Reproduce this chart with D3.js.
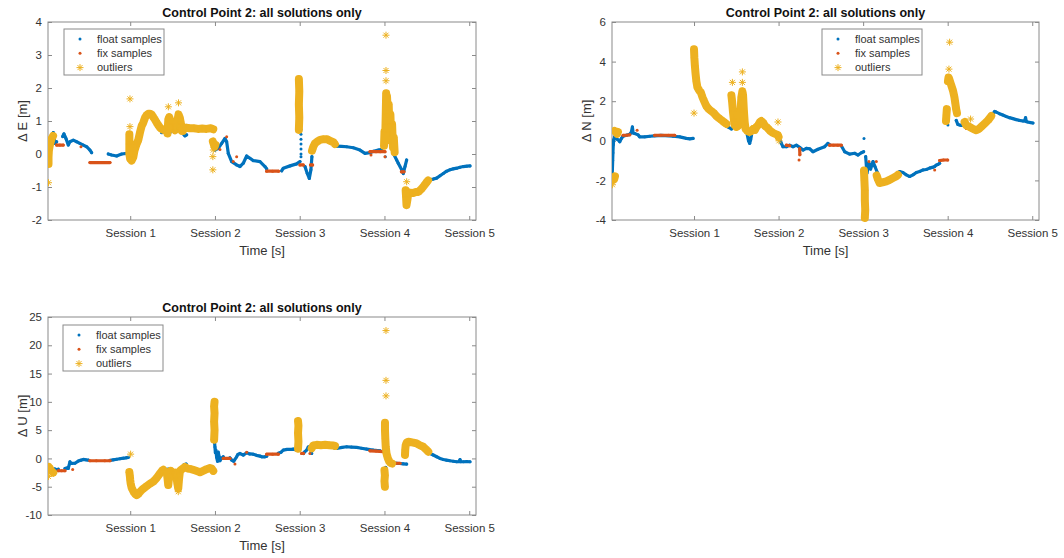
<!DOCTYPE html>
<html lang="en">
<head>
<meta charset="UTF-8">
<title>Control Point 2: all solutions only</title>
<script src="https://d3js.org/d3.v7.min.js"></script>
<style>
  body { margin: 0; background: #fff; }
  svg { font-family: "Liberation Sans", Arial, Helvetica, sans-serif; }
</style>
</head>
<body>
<svg id="chart" width="1064" height="558"></svg>
<script>
// x axis: session start times (time in session units)
var sessionTicks = [1, 2, 3, 4, 5];
var sessionLabels = ["Session 1", "Session 2", "Session 3", "Session 4", "Session 5"];
var timeDomain = [0.03, 5.08];

var eTicks = [-2, -1, 0, 1, 2, 3, 4];
var nTicks = [-4, -2, 0, 2, 4, 6];
var uTicks = [-10, -5, 0, 5, 10, 15, 20, 25];

var legendLabels = ["float samples", "fix samples", "outliers"];

// each series is a list of runs of [time, value]; a run of one is a lone sample
var eFloat = [
  [[0.073,0.53],[0.092,0.65],[0.112,0.32],[0.132,0.37]],
  [[0.203,0.53],[0.218,0.61],[0.242,0.47],[0.269,0.27],[0.289,0.37],[0.328,0.42],[0.368,0.37],[0.407,0.32],[0.446,0.27],[0.486,0.22],[0.525,0.12],[0.545,0.04]],
  [[0.741,0.0],[0.781,-0.03],[0.84,-0.06],[0.899,0.0],[0.958,0.02],[0.989,0.04]],
  [[1.371,0.65],[1.42,0.66],[1.469,0.65]],
  [[1.626,0.61],[1.646,0.55],[1.666,0.58]],
  [[2.0,0.12],[2.039,0.17],[2.079,0.32],[2.118,0.47],[2.138,0.37],[2.157,0.02],[2.197,-0.23],[2.256,-0.33],[2.295,-0.38],[2.334,-0.28],[2.374,-0.06],[2.413,-0.13],[2.452,-0.2],[2.531,-0.23],[2.59,-0.38],[2.61,-0.45]],
  [[2.787,-0.51],[2.806,-0.43],[2.885,-0.36],[2.963,-0.3],[3.003,-0.23]],
  [[3.015,0.75]],[[3.015,0.6]],[[3.015,0.45]],[[3.015,0.3]],[[3.015,0.15]],[[3.015,0.0]],[[3.015,-0.08]],
  [[3.062,-0.38],[3.089,-0.59],[3.113,-0.74],[3.132,-0.48],[3.144,-0.08]],
  [[3.416,0.24],[3.436,0.24],[3.495,0.23],[3.554,0.22],[3.632,0.19],[3.711,0.12],[3.77,0.02],[3.829,0.04],[3.87,0.08],[3.928,0.12],[3.967,0.14]],
  [[4.01,-0.08]],
  [[4.104,0.02],[4.144,-0.18],[4.163,-0.28],[4.203,-0.48],[4.222,-0.59],[4.242,-0.38],[4.262,-0.18]],
  [[4.517,-0.81],[4.537,-0.78],[4.576,-0.76],[4.616,-0.73],[4.655,-0.66],[4.694,-0.59],[4.733,-0.52],[4.773,-0.48],[4.812,-0.45],[4.852,-0.43],[4.891,-0.4],[4.931,-0.38],[4.97,-0.37],[5.009,-0.36]]
];
var eFix = [
  [[0.132,0.27],[0.17,0.27],[0.21,0.27]],
  [[0.419,0.22]],
  [[0.525,-0.26],[0.6,-0.26],[0.68,-0.26],[0.761,-0.26]],
  [[2.059,0.14]],[[2.138,0.52]],[[2.216,-0.23]],[[2.256,-0.08]],
  [[2.61,-0.52],[2.68,-0.52],[2.75,-0.52]],
  [[3.003,-0.33],[3.042,-0.33]],
  [[3.128,-0.33],[3.152,-0.33]],
  [[3.829,0.07],[3.9,0.07],[3.95,0.07],[4.006,0.07]],
  [[3.841,-0.03]],[[4.006,-0.08]],
  [[4.2,-0.54],[4.23,-0.54]]
];
var eOut = [
  [[0.036,-0.3],[0.036,-0.1],[0.04,0.1],[0.05,0.25],[0.06,0.35],[0.07,0.45],[0.08,0.5],[0.09,0.55]],
  [[0.036,-0.87]],
  [[0.99,0.6],[0.99,0.3],[0.99,0.0],[1.0,-0.15],[1.017,-0.2],[1.036,-0.1],[1.05,0.1],[1.075,0.3],[1.095,0.42],[1.115,0.65],[1.135,0.85],[1.154,0.95],[1.175,1.1],[1.194,1.18],[1.213,1.22],[1.233,1.22],[1.252,1.2],[1.272,1.12],[1.29,1.05],[1.312,0.95],[1.33,0.88],[1.351,0.8],[1.37,0.76],[1.39,0.73]],
  [[0.997,0.83]],[[0.997,1.67]],
  [[1.44,0.62],[1.445,0.85],[1.45,1.05],[1.46,1.12],[1.475,1.0],[1.49,0.92],[1.51,0.8],[1.53,0.72],[1.55,0.85],[1.56,1.05],[1.57,1.2],[1.585,1.1],[1.6,0.9],[1.61,0.7],[1.62,0.7]],
  [[1.45,1.43]],[[1.57,1.55]],
  [[1.62,0.75],[1.66,0.8],[1.7,0.78],[1.75,0.78],[1.8,0.76],[1.85,0.77],[1.9,0.76],[1.95,0.78],[1.98,0.75]],
  [[1.975,0.38],[1.985,0.3],[1.995,0.22],[2.005,0.28]],
  [[1.975,-0.48]],[[1.975,-0.08]],[[1.98,0.12]],
  [[2.99,0.73],[2.995,1.1],[2.99,1.5],[2.995,1.9],[2.99,2.27]],
  [[3.145,0.1],[3.16,0.22],[3.18,0.32],[3.21,0.38],[3.24,0.43],[3.28,0.45],[3.32,0.45],[3.36,0.4],[3.4,0.35],[3.415,0.3]],
  [[3.995,0.25],[4.0,0.68],[4.008,0.4],[4.015,1.2],[4.02,1.84],[4.025,0.9],[4.03,1.75],[4.04,1.2],[4.045,0.8],[4.05,1.5],[4.06,0.6],[4.07,1.2],[4.08,0.4],[4.09,0.9],[4.1,0.2],[4.11,0.5],[4.12,0.05]],
  [[4.018,3.6]],[[4.018,2.53]],[[4.018,2.22]],
  [[4.262,-0.84]],
  [[4.25,-1.1],[4.255,-1.3],[4.26,-1.55],[4.27,-1.4],[4.28,-1.2],[4.3,-1.17],[4.34,-1.18],[4.37,-1.15],[4.4,-1.15],[4.44,-1.05],[4.47,-0.95],[4.5,-0.85],[4.515,-0.8]]
];

var nFloat = [
  [[0.031,-1.8],[0.035,-1.4],[0.038,-1.0],[0.041,-0.6],[0.045,-0.2],[0.05,0.05],[0.063,0.2]],
  [[0.063,0.2],[0.08,0.1],[0.102,0.05],[0.122,-0.05],[0.141,0.12],[0.161,0.23],[0.2,0.28],[0.24,0.33],[0.26,0.45],[0.271,0.7],[0.28,0.4],[0.299,0.37],[0.338,0.3],[0.358,0.2],[0.417,0.2],[0.476,0.23],[0.535,0.25],[0.614,0.27],[0.752,0.23],[0.831,0.2],[0.91,0.12],[0.95,0.1],[0.989,0.12]],
  [[1.383,0.75],[1.41,0.68],[1.442,0.6]],
  [[1.63,0.3],[1.645,0.0],[1.658,-0.13],[1.67,0.05],[1.68,0.3]],
  [[2.005,0.2],[2.013,0.1],[2.033,-0.13],[2.052,-0.3],[2.092,-0.3],[2.131,-0.22],[2.171,-0.3],[2.21,-0.22],[2.249,-0.33],[2.289,-0.47],[2.328,-0.38],[2.368,-0.4],[2.407,-0.55],[2.466,-0.43],[2.545,-0.3],[2.584,-0.13],[2.604,-0.2]],
  [[2.742,-0.25],[2.782,-0.55],[2.84,-0.67],[2.9,-0.63],[2.94,-0.72],[2.979,-0.6],[3.006,-0.55]],
  [[3.01,0.12]],
  [[3.03,-0.8],[3.045,-1.63],[3.069,-1.13],[3.089,-1.43],[3.117,-1.05],[3.14,-1.3],[3.168,-1.6]],
  [[3.412,-1.63],[3.432,-1.55],[3.471,-1.6],[3.51,-1.72],[3.55,-1.8],[3.59,-1.72],[3.629,-1.6],[3.668,-1.55],[3.708,-1.47],[3.747,-1.45],[3.786,-1.38],[3.826,-1.33],[3.846,-1.3],[3.866,-1.22],[3.885,-1.2],[3.905,-1.13]],
  [[4.003,0.8]],
  [[4.101,1.03],[4.121,0.82],[4.141,0.8],[4.161,0.78],[4.18,0.8],[4.2,0.87]],
  [[4.515,1.35],[4.535,1.37],[4.555,1.48],[4.574,1.45],[4.613,1.37],[4.652,1.3],[4.692,1.23],[4.731,1.17],[4.771,1.12],[4.81,1.07],[4.849,1.03],[4.89,1.0],[4.909,1.0],[4.921,1.17],[4.93,0.97],[4.948,0.95],[4.98,0.92],[5.008,0.9]]
];
var nFix = [
  [[0.161,0.28],[0.2,0.28],[0.24,0.3]],
  [[0.327,0.53]],
  [[0.535,0.28],[0.6,0.28],[0.7,0.28],[0.772,0.28]],
  [[2.092,-0.22],[2.131,-0.25]],
  [[2.242,-0.97]],
  [[2.249,-0.4],[2.252,-0.7]],
  [[2.604,-0.22],[2.65,-0.22],[2.7,-0.22],[2.742,-0.22]],
  [[3.069,-1.05]],[[3.156,-1.05]],
  [[3.846,-1.47]],
  [[3.905,-1.0],[3.95,-0.97],[4.0,-0.97]],
  [[4.22,0.62]]
];
var nOut = [
  [[0.035,-1.9],[0.04,-2.0],[0.048,-1.85],[0.055,-1.95],[0.065,-1.8]],
  [[0.035,-2.22]],
  [[0.06,0.5],[0.075,0.45],[0.09,0.35],[0.1,0.45]],
  [[1.0,4.62],[1.004,4.2],[1.01,3.8],[1.018,3.4],[1.028,3.0],[1.04,2.7],[1.06,2.55],[1.08,2.45],[1.1,2.2],[1.12,2.0],[1.146,1.75],[1.175,1.6],[1.205,1.5],[1.235,1.4],[1.264,1.25],[1.294,1.15],[1.323,1.05],[1.353,0.95],[1.383,0.85]],
  [[1.0,1.4]],
  [[1.442,2.3],[1.45,2.0],[1.46,1.5],[1.47,1.1],[1.48,0.8],[1.5,0.7],[1.52,0.75],[1.54,1.0],[1.552,1.6],[1.56,2.2],[1.572,2.5],[1.58,2.3],[1.59,1.5],[1.6,0.9],[1.61,0.6],[1.63,0.5],[1.65,0.45]],
  [[1.454,2.95]],[[1.572,3.48]],[[1.572,2.95]],
  [[1.678,0.5],[1.7,0.6],[1.72,0.55],[1.737,0.7],[1.76,0.8],[1.78,0.95],[1.796,1.0],[1.82,0.9],[1.84,0.75],[1.856,0.7],[1.88,0.6],[1.9,0.5],[1.934,0.4],[1.96,0.35],[1.99,0.3],[2.0,0.2]],
  [[1.993,0.95]],[[2.005,0.0]],
  [[3.01,-1.5],[3.015,-2.0],[3.02,-2.5],[3.02,-3.0],[3.025,-3.5],[3.02,-3.9]],
  [[3.16,-1.75],[3.175,-1.95],[3.195,-2.13],[3.23,-2.1],[3.274,-2.05],[3.31,-1.98],[3.353,-1.88],[3.39,-1.8],[3.412,-1.72]],
  [[3.98,1.0],[3.985,1.3],[3.99,1.6]],
  [[4.003,3.0],[4.01,3.2],[4.02,3.1],[4.035,2.9],[4.05,2.7],[4.065,2.5],[4.08,2.2],[4.09,1.9],[4.1,1.6],[4.11,1.4]],
  [[4.023,4.98]],[[4.015,3.62]],
  [[4.2,0.95],[4.22,0.78],[4.26,0.7],[4.3,0.6],[4.338,0.53],[4.37,0.6],[4.4,0.72],[4.44,0.88],[4.48,1.05],[4.515,1.25]],
  [[4.271,1.1]]
];

var uFloat = [
  [[0.053,-1.9],[0.07,-2.1],[0.09,-2.0],[0.11,-1.85],[0.13,-2.0],[0.151,-1.9]],
  [[0.23,-1.8],[0.25,-1.7],[0.269,-1.76],[0.289,-0.6],[0.3,-0.9],[0.309,-0.88],[0.348,-0.85],[0.387,-0.47],[0.42,-0.3],[0.446,-0.18],[0.48,-0.25],[0.505,-0.29]],
  [[0.761,-0.35],[0.8,-0.25],[0.84,-0.15],[0.879,-0.05],[0.92,0.05],[0.95,0.1],[0.977,0.18]],
  [[1.39,-1.94],[1.43,-1.94],[1.45,-1.9]],
  [[1.63,-1.15],[1.66,-1.0]],
  [[1.995,2.9],[2.0,2.0],[2.005,1.0],[2.01,1.5],[2.02,0.2],[2.03,-0.5],[2.039,1.1],[2.05,0.3],[2.059,-0.4],[2.075,0.0],[2.098,0.3]],
  [[2.177,0.1],[2.197,-0.29],[2.22,-0.5],[2.256,0.29],[2.27,0.7],[2.295,0.88],[2.334,0.59],[2.374,1.0],[2.41,0.8],[2.452,0.76],[2.49,0.55],[2.531,0.41],[2.551,0.29],[2.59,0.29],[2.61,0.4]],
  [[2.747,0.9],[2.78,1.1],[2.806,1.47],[2.85,1.6],[2.9,1.6],[2.924,1.65],[2.963,1.5],[2.99,1.47]],
  [[3.043,0.88],[3.06,1.2],[3.082,1.47],[3.1,2.0],[3.113,2.06],[3.13,1.5],[3.141,0.88]],
  [[3.416,1.76],[3.436,1.76],[3.5,1.95],[3.554,2.06],[3.61,2.0],[3.672,1.94],[3.73,1.8],[3.789,1.65],[3.829,1.55],[3.868,1.47],[3.92,1.4],[3.947,1.35]],
  [[4.006,-1.76],[4.015,-1.6]],
  [[4.104,-0.8],[4.144,-0.85],[4.183,-0.9],[4.22,-0.95],[4.262,-1.0]],
  [[4.517,1.18],[4.537,0.88],[4.576,0.6],[4.616,0.29],[4.655,0.0],[4.694,-0.18],[4.733,-0.3],[4.773,-0.41],[4.812,-0.5],[4.852,-0.59],[4.88,-0.55],[4.891,-0.2],[4.9,-0.59],[4.931,-0.59],[4.97,-0.55],[5.009,-0.59]]
];
var uFix = [
  [[0.151,-2.18],[0.19,-2.18],[0.23,-2.18]],
  [[0.321,-1.94]],
  [[0.525,-0.41],[0.6,-0.41],[0.7,-0.41],[0.761,-0.41]],
  [[2.098,0.0],[2.14,0.0],[2.177,0.0]],
  [[2.236,-1.0]],[[2.374,1.1]],
  [[2.61,0.76],[2.68,0.76],[2.747,0.76]],
  [[3.023,0.88],[3.043,0.88]],[[3.12,0.88]],
  [[3.829,1.35],[3.9,1.3],[3.986,1.2]],
  [[4.144,-0.85],[4.183,-0.85]]
];
var uOut = [
  [[0.035,-1.5],[0.04,-1.8],[0.05,-1.7],[0.06,-2.0],[0.075,-2.3],[0.092,-2.5]],
  [[0.035,-3.2]],[[0.092,-2.65]],
  [[1.005,0.76]],
  [[0.99,-2.4],[0.995,-3.0],[1.0,-3.8],[1.005,-4.4],[1.017,-5.2],[1.04,-5.9],[1.06,-6.3],[1.076,-6.5],[1.095,-6.3],[1.115,-5.9],[1.15,-5.4],[1.194,-4.9],[1.23,-4.5],[1.272,-4.1],[1.31,-3.5],[1.351,-2.65],[1.38,-2.1],[1.39,-2.0]],
  [[0.989,-2.5]],
  [[1.43,-2.4],[1.44,-3.5],[1.449,-4.7],[1.46,-3.2],[1.48,-2.2],[1.51,-2.6],[1.53,-2.5],[1.548,-3.5],[1.557,-4.5],[1.567,-5.3],[1.575,-3.8],[1.587,-2.2],[1.61,-1.9],[1.646,-1.5],[1.68,-1.8],[1.72,-1.9],[1.76,-2.1],[1.8,-2.3],[1.823,-2.45],[1.86,-2.2],[1.902,-1.9],[1.94,-1.7],[1.961,-1.8],[1.98,-2.2]],
  [[1.567,-5.88]],
  [[1.99,3.3],[1.995,5.0],[1.99,6.5],[1.995,8.0],[1.99,9.2],[1.995,10.0]],
  [[2.98,1.7],[2.985,3.0],[2.98,4.5],[2.985,5.8],[2.98,6.6]],
  [[3.141,1.8],[3.16,2.3],[3.2,2.4],[3.25,2.35],[3.3,2.4],[3.35,2.35],[3.39,2.3],[3.416,2.2]],
  [[4.018,22.6]],[[4.018,13.8]],[[4.018,11.06]],
  [[4.006,6.3],[4.006,5.0],[4.01,3.5],[4.015,2.0],[4.025,0.8],[4.04,0.0],[4.055,-0.5],[4.07,-0.8],[4.09,-0.9]],
  [[4.0,-2.1],[4.005,-3.0],[4.0,-4.0],[4.005,-5.0]],
  [[4.242,0.6],[4.245,1.5],[4.25,2.3],[4.262,2.8],[4.28,2.95],[4.301,2.9],[4.34,2.8],[4.38,2.65],[4.42,2.3],[4.458,2.06],[4.49,1.6],[4.517,1.2]]
];

var colFloat = "#0072BD", colFix = "#D95319", colOut = "#EDB120";
var axisCol = "#8a8a8a", textCol = "#333";

var panels = [
  { ylab: "\u0394 E [m]", float: eFloat, fix: eFix, out: eOut, yDomain: [-2, 4], yTicks: eTicks,
    left: 48, right: 476, top: 22, bottom: 220, legX: 64, legY: 29 },
  { ylab: "\u0394 N [m]", float: nFloat, fix: nFix, out: nOut, yDomain: [-4, 6], yTicks: nTicks,
    left: 612, right: 1039, top: 22, bottom: 220, legX: 822, legY: 29 },
  { ylab: "\u0394 U [m]", float: uFloat, fix: uFix, out: uOut, yDomain: [-10, 25], yTicks: uTicks,
    left: 48, right: 476, top: 317, bottom: 515, legX: 63, legY: 325 }
];

var svg = d3.select("#chart");
var starPath = "M-3.5,0H3.5M0,-3.5V3.5M-2.5,-2.5L2.5,2.5M-2.5,2.5L2.5,-2.5";

panels.forEach(function(p, pi) {
  var x = d3.scaleLinear().domain(timeDomain).range([p.left, p.right]);
  var y = d3.scaleLinear().domain(p.yDomain).range([p.bottom, p.top]);
  var g = svg.append("g");

  var clipId = "clip" + pi;
  g.append("clipPath").attr("id", clipId).append("rect")
    .attr("x", p.left).attr("y", p.top - 4)
    .attr("width", p.right - p.left).attr("height", p.bottom - p.top + 8);

  // axes, ticks point inwards on all four sides
  var bottomAxis = d3.axisBottom(x).tickValues(sessionTicks)
    .tickFormat(function(d, i) { return sessionLabels[i]; })
    .tickSizeInner(-4).tickSizeOuter(0).tickPadding(9);
  var topAxis = d3.axisTop(x).tickValues(sessionTicks).tickFormat("")
    .tickSizeInner(-4).tickSizeOuter(0);
  var leftAxis = d3.axisLeft(y).tickValues(p.yTicks).tickFormat(function(d) { return String(d); })
    .tickSizeInner(-4).tickSizeOuter(0).tickPadding(6);
  var rightAxis = d3.axisRight(y).tickValues(p.yTicks).tickFormat("")
    .tickSizeInner(-4).tickSizeOuter(0);

  var axes = [
    g.append("g").attr("transform", "translate(0," + p.bottom + ")").call(bottomAxis),
    g.append("g").attr("transform", "translate(0," + p.top + ")").call(topAxis),
    g.append("g").attr("transform", "translate(" + p.left + ",0)").call(leftAxis),
    g.append("g").attr("transform", "translate(" + p.right + ",0)").call(rightAxis)
  ];
  axes.forEach(function(a) {
    a.attr("font-family", null).attr("font-size", 11.5);
    a.select(".domain").remove();
    a.selectAll(".tick line").attr("stroke", axisCol);
    a.selectAll(".tick text").attr("fill", textCol);
  });

  g.append("rect")
    .attr("x", p.left).attr("y", p.top)
    .attr("width", p.right - p.left).attr("height", p.bottom - p.top)
    .attr("fill", "none").attr("stroke", axisCol).attr("stroke-width", 1);

  // samples
  var line = d3.line().x(function(d) { return x(d[0]); }).y(function(d) { return y(d[1]); });
  var plot = g.append("g").attr("clip-path", "url(#" + clipId + ")");

  function drawSamples(runs, col) {
    plot.append("g").selectAll("path")
      .data(runs.filter(function(r) { return r.length > 1; }))
      .join("path")
      .attr("d", line)
      .attr("fill", "none").attr("stroke", col)
      .attr("stroke-width", 3.2).attr("stroke-linejoin", "round").attr("stroke-linecap", "round");
    plot.append("g").selectAll("circle")
      .data(d3.merge(runs))
      .join("circle")
      .attr("cx", function(d) { return x(d[0]); })
      .attr("cy", function(d) { return y(d[1]); })
      .attr("r", 1.5).attr("fill", col);
  }
  drawSamples(p.float, colFloat);
  drawSamples(p.fix, colFix);

  // outliers: dense runs of asterisks read as a thick band
  plot.append("g").selectAll("path")
    .data(p.out.filter(function(r) { return r.length > 1; }))
    .join("path")
    .attr("d", line)
    .attr("fill", "none").attr("stroke", colOut)
    .attr("stroke-width", 8).attr("stroke-linejoin", "round").attr("stroke-linecap", "round");
  plot.append("g").selectAll("path")
    .data(d3.merge(p.out))
    .join("path")
    .attr("transform", function(d) { return "translate(" + x(d[0]) + "," + y(d[1]) + ")"; })
    .attr("d", starPath)
    .attr("fill", "none").attr("stroke", colOut).attr("stroke-width", 1);

  // titles
  g.append("text")
    .attr("x", (p.left + p.right) / 2).attr("y", p.top - 5.5)
    .attr("text-anchor", "middle").attr("font-size", 12.5).attr("font-weight", "bold")
    .attr("fill", "#111")
    .text("Control Point 2: all solutions only");
  g.append("text")
    .attr("x", (p.left + p.right) / 2).attr("y", p.bottom + 34.5)
    .attr("text-anchor", "middle").attr("font-size", 13).attr("fill", textCol)
    .text("Time [s]");
  g.append("text")
    .attr("transform", "translate(" + (p.left - 26) + "," + ((p.top + p.bottom) / 2) + ") rotate(-90)")
    .attr("text-anchor", "middle").attr("dy", "0.35em")
    .attr("font-size", 13).attr("fill", textCol)
    .text(p.ylab);

  // legend
  var leg = g.append("g").attr("transform", "translate(" + p.legX + "," + p.legY + ")");
  leg.append("rect").attr("width", 100).attr("height", 46)
    .attr("fill", "#fff").attr("stroke", axisCol).attr("stroke-width", 1);
  legendLabels.forEach(function(lab, i) {
    var ly = 10 + i * 14.3;
    if (i < 2) {
      leg.append("circle").attr("cx", 16).attr("cy", ly).attr("r", 1.5)
        .attr("fill", i === 0 ? colFloat : colFix);
    } else {
      leg.append("path").attr("transform", "translate(16," + ly + ")")
        .attr("d", starPath).attr("fill", "none").attr("stroke", colOut).attr("stroke-width", 1);
    }
    leg.append("text").attr("x", 33).attr("y", ly).attr("dy", "0.35em")
      .attr("font-size", 11).attr("fill", textCol).text(lab);
  });
});
</script>
</body>
</html>
